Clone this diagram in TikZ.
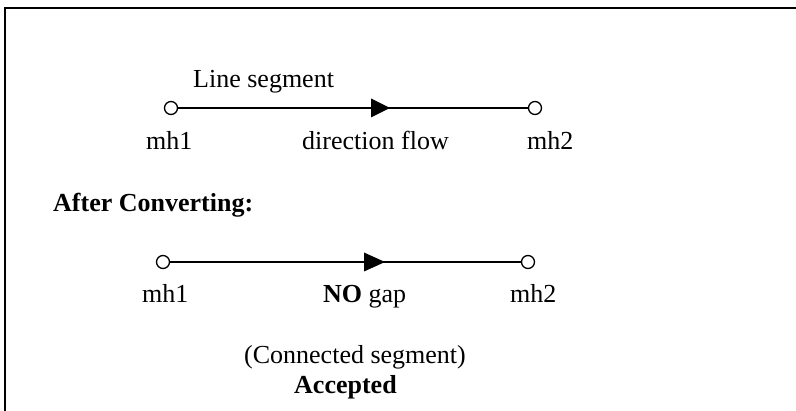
\documentclass[tikz,border=0pt]{standalone}
\usepackage{fontspec}
\setmainfont{Liberation Serif}
\usetikzlibrary{arrows.meta}
\begin{document}
\begin{tikzpicture}[x=1pt,y=-1pt,
  lbl/.style={anchor=base west,inner sep=0pt,font=\fontsize{26}{30}\selectfont},
  mh/.style={circle,draw,line width=1.3pt,minimum size=13pt,inner sep=0pt,fill=white},
  seg/.style={line width=1.5pt},
  tri/.style={fill=black}]
\useasboundingbox (0,0) rectangle (796,411);
\draw[line width=2pt] (5,430) -- (5,8) -- (810,8);
% row 1
\node[mh] (a1) at (171,108) {};
\node[mh] (b1) at (535,108) {};
\coordinate (t1) at (390,108);
\draw[seg] (a1) -- (b1);
\fill[tri] (371,98.5) -- (t1) -- (371,117.5) -- cycle;
\node[lbl] (ls) at (193,88) {Line segment};
\node[lbl] (m11) at (146,150) {mh1};
\node[lbl] (df) at (302,150) {direction flow};
\node[lbl] (m21) at (527,150) {mh2};
% heading
\node[lbl] (ac) at (53,212) {\bfseries After Converting:};
% row 2
\node[mh] (a2) at (163,262) {};
\node[mh] (b2) at (528,262) {};
\coordinate (t2) at (385,262);
\draw[seg] (a2) -- (b2);
\fill[tri] (364,252.5) -- (t2) -- (364,271.5) -- cycle;
\node[lbl] (m12) at (142,303) {mh1};
\node[lbl] (ng) at (323,303) {\textbf{NO} gap};
\node[lbl] (m22) at (510,303) {mh2};
\node[lbl] (cs) at (244,364) {(Connected segment)};
\node[lbl] (acc) at (294,394) {\bfseries Accepted};
\end{tikzpicture}
\end{document}
